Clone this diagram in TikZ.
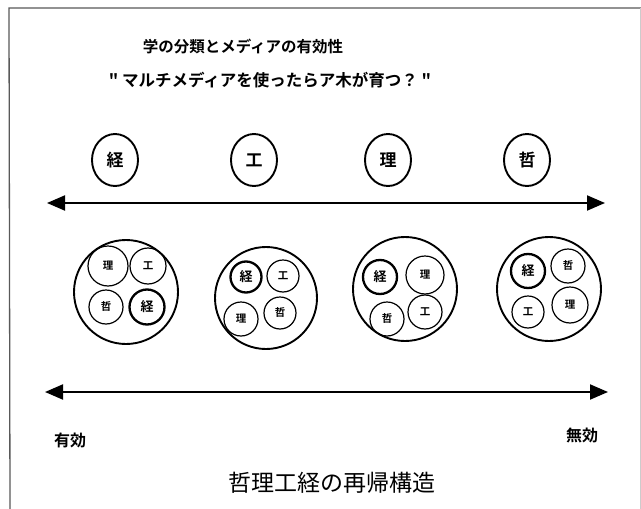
\documentclass[tikz,border=0pt]{standalone}
\usepackage{fontspec}
\newfontfamily\cjk{Noto Sans CJK JP}[BoldFont={Noto Sans CJK JP Bold}]
\usetikzlibrary{arrows.meta,shapes.geometric}
\tikzset{
  topc/.style={ellipse,draw,line width=1.9pt,minimum width=46pt,minimum height=52pt,inner sep=0pt,font=\cjk\bfseries\fontsize{17}{17}\selectfont},
  bigc/.style={circle,draw,line width=1.9pt,minimum size=104pt,inner sep=0pt},
  smc/.style={circle,draw,line width=1.2pt,minimum size=34pt,inner sep=0pt,font=\cjk\bfseries\fontsize{10.5}{10.5}\selectfont},
  smk/.style={smc,line width=2.3pt,font=\cjk\bfseries\fontsize{13}{13}\selectfont},
  dblarrow/.style={line width=2pt,{Triangle[length=18pt,width=15pt]}-{Triangle[length=18pt,width=15pt]}},
  lbl/.style={inner sep=0pt,font=\cjk\bfseries\fontsize{16}{16}\selectfont}
}
\begin{document}
\begin{tikzpicture}[x=1pt,y=-1pt]
\useasboundingbox (0,0) rectangle (641,509);
\fill[white] (0,0) rectangle (641,509);
% frame
\coordinate (fl) at (9,8);
\coordinate (fr) at (641,8);
\coordinate (fb) at (10,509);
\coordinate (rt) at (640,8);
\coordinate (rb) at (640,509);
\draw[line width=1.3pt,gray!70!black] (fr) -- (fl) -- (fb);
\draw[line width=0.6pt,gray!40] (rt) -- (rb);
% titles
\node[lbl,font=\cjk\bfseries\fontsize{15.5}{16}\selectfont] (t1) at (243,47) {学の分類とメディアの有効性};
\node[lbl,font=\cjk\bfseries\fontsize{16.5}{17}\selectfont] (t2) at (270,80) {" マルチメディアを使ったらア木が育つ？ "};
% top circles
\node[topc] (k) at (115,160) {経};
\node[topc] (g) at (254,160) {工};
\node[topc] (r) at (388,160) {理};
\node[topc] (t) at (527,160) {哲};
% top arrow
\coordinate (a1l) at (47,203);
\coordinate (a1r) at (605,203);
\draw[dblarrow] (a1l) -- (a1r);
% group 1
\node[bigc] (b1) at (126,292) {};
\node[smc,minimum size=40pt] (b1r) at (108,266) {理};
\node[smc,minimum size=36pt] (b1g) at (148,266) {工};
\node[smc] (b1t) at (106,307) {哲};
\node[smk,minimum size=35pt] (b1k) at (147,307) {経};
% group 2
\node[bigc,minimum size=102pt] (b2) at (266,298) {};
\node[smk,minimum size=31pt] (b2k) at (246,277) {経};
\node[smc,minimum size=32pt] (b2g) at (283,276) {工};
\node[smc] (b2r) at (241,319) {理};
\node[smc,minimum size=32pt] (b2t) at (280,313) {哲};
% group 3
\node[bigc] (b3) at (405,289) {};
\node[smk] (b3k) at (380,277) {経};
\node[smc,minimum size=38pt] (b3r) at (425,275) {理};
\node[smc] (b3t) at (387,319) {哲};
\node[smc] (b3g) at (425,312) {工};
% group 4
\node[bigc] (b4) at (549,289) {};
\node[smk] (b4k) at (528,271) {経};
\node[smc] (b4t) at (568,266) {哲};
\node[smc,minimum size=32pt] (b4g) at (528,312) {工};
\node[smc,minimum size=36pt] (b4r) at (570,305) {理};
% bottom arrow
\coordinate (a2l) at (45,392);
\coordinate (a2r) at (608,392);
\draw[dblarrow] (a2l) -- (a2r);
% labels
\node[lbl] (yu) at (70,440) {有効};
\node[lbl] (mu) at (582,435) {無効};
\node[inner sep=0pt,font=\cjk\fontsize{23}{23}\selectfont] (bt) at (332,483) {哲理工経の再帰構造};
\end{tikzpicture}
\end{document}
